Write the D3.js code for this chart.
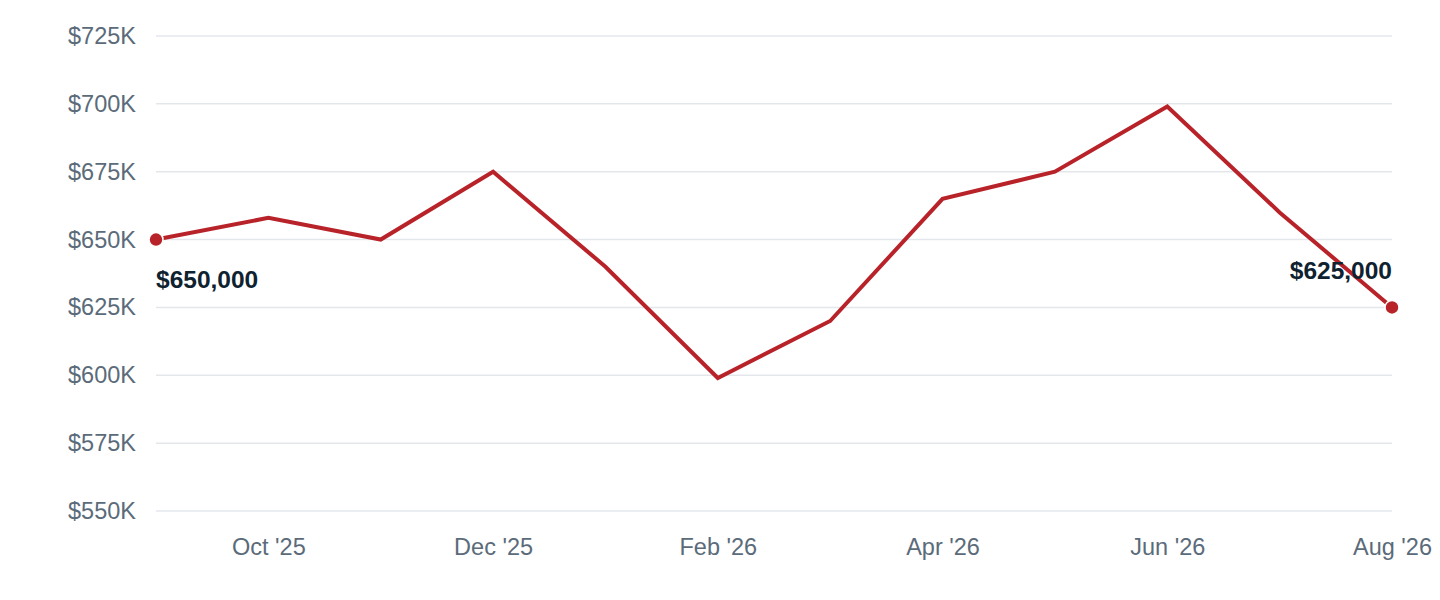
<!DOCTYPE html>
<html><head><meta charset="utf-8">
<script src="https://cdn.jsdelivr.net/npm/d3@7"></script>
<style>
html,body{margin:0;padding:0;background:#fff;}
svg{display:block;font-family:"Liberation Sans",Arial,Helvetica,sans-serif;}
</style></head>
<body>
<svg id="chart" width="1440" height="600"></svg>
<script>
const months = ["2025-09","2025-10","2025-11","2025-12","2026-01","2026-02","2026-03","2026-04","2026-05","2026-06","2026-07","2026-08"];
const prices = [650000,658000,650000,675000,640000,599000,620000,665000,675000,699000,660000,625000];
const yTicks = [550000,575000,600000,625000,650000,675000,700000,725000];
const xTickMonths = ["2025-10","2025-12","2026-02","2026-04","2026-06","2026-08"];
const xTickLabels = ["Oct '25","Dec '25","Feb '26","Apr '26","Jun '26","Aug '26"];

(function(){
const data = months.map((m,i)=>({month:m, value:prices[i]}));

const svg = d3.select("#chart");
const mLeft=156, mRight=1392, mTop=36, mBottom=511;

const x = d3.scalePoint().domain(months).range([mLeft,mRight]);
const y = d3.scaleLinear().domain([550000,725000]).range([mBottom,mTop]);

// grid
svg.append("g").selectAll("line").data(yTicks).join("line")
  .attr("x1",mLeft).attr("x2",mRight)
  .attr("y1",d=>y(d)).attr("y2",d=>y(d))
  .attr("stroke","#e3e7ec").attr("stroke-width",1.5);

// y axis
const yAxis = d3.axisLeft(y).tickValues(yTicks).tickSize(0).tickPadding(20)
  .tickFormat(d=>"$"+d3.format("d")(d/1000)+"K");
const gy = svg.append("g").attr("transform",`translate(${mLeft},0)`).call(yAxis);
gy.select(".domain").remove();
gy.selectAll("text").attr("fill","#5b6b7a").attr("font-size",23.5).attr("font-family","'Liberation Sans',Arial,sans-serif");

// x axis
const xAxis = d3.axisBottom(x).tickValues(xTickMonths).tickSize(0).tickPadding(27)
  .tickFormat((d,i)=>xTickLabels[i]);
const gx = svg.append("g").attr("transform",`translate(0,${mBottom})`).call(xAxis);
gx.select(".domain").remove();
gx.selectAll("text").attr("fill","#5b6b7a").attr("font-size",23.5).attr("font-family","'Liberation Sans',Arial,sans-serif");

// line
const line = d3.line().x(d=>x(d.month)).y(d=>y(d.value));
svg.append("path").datum(data).attr("d",line)
  .attr("fill","none").attr("stroke","#b8232a").attr("stroke-width",4)
  .attr("stroke-linejoin","miter");

// end points
const ends = [data[0], data[data.length-1]];
svg.append("g").selectAll("circle").data(ends).join("circle")
  .attr("cx",d=>x(d.month)).attr("cy",d=>y(d.value)).attr("r",7)
  .attr("fill","#b8232a").attr("stroke","#fff").attr("stroke-width",1.5);

// labels
const fmt = d=>"$"+d3.format(",")(d);
svg.append("text").attr("x",x(data[0].month)).attr("y",y(data[0].value)+48)
  .attr("text-anchor","start").attr("font-weight","bold").attr("font-size",24.5)
  .attr("fill","#0f2230").text(fmt(data[0].value));
const last = data[data.length-1];
svg.append("text").attr("x",x(last.month)).attr("y",y(last.value)-28)
  .attr("text-anchor","end").attr("font-weight","bold").attr("font-size",24.5)
  .attr("fill","#0f2230").text(fmt(last.value));
})();
</script>
</body></html>
